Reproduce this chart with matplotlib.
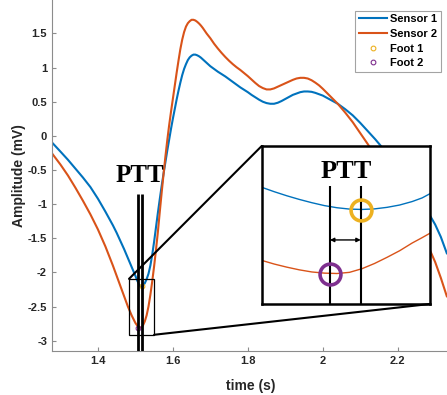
import numpy as np
import matplotlib
matplotlib.use("Agg")
import matplotlib.pyplot as plt
from matplotlib.patches import Rectangle, ConnectionPatch

plt.rcParams['font.family'] = ['Liberation Sans', 'DejaVu Sans']
plt.rcParams['font.weight'] = 'bold'

# ---- data ----
t = [1.278, 1.30, 1.32, 1.34, 1.36, 1.38, 1.40, 1.42, 1.44, 1.45, 1.46, 1.47, 1.48,
     1.49, 1.50, 1.505, 1.51, 1.515, 1.52, 1.525, 1.53, 1.535, 1.54, 1.545, 1.55,
     1.555, 1.56, 1.565, 1.57, 1.575, 1.58, 1.585, 1.59, 1.595, 1.60, 1.605, 1.61,
     1.615, 1.62, 1.625, 1.63, 1.635, 1.64, 1.645, 1.65, 1.655, 1.66, 1.665, 1.67,
     1.675, 1.68, 1.69, 1.70, 1.71, 1.72, 1.73, 1.74, 1.75, 1.76, 1.77, 1.78, 1.79,
     1.80, 1.81, 1.82, 1.83, 1.84, 1.85, 1.86, 1.87, 1.88, 1.89, 1.90, 1.91, 1.92,
     1.93, 1.94, 1.95, 1.96, 1.97, 1.98, 1.99, 2.00, 2.02, 2.04, 2.06, 2.08, 2.10,
     2.12, 2.14, 2.16, 2.18, 2.20, 2.22, 2.24, 2.26, 2.28, 2.30, 2.315, 2.331]
sensor1 = [-0.10, -0.23, -0.35, -0.48, -0.61, -0.75, -0.92, -1.11, -1.31, -1.42, -1.54,
           -1.66, -1.79, -1.92, -2.05, -2.12, -2.18, -2.21, -2.20, -2.16, -2.10, -2.02,
           -1.90, -1.74, -1.55, -1.34, -1.13, -0.93, -0.74, -0.56, -0.39, -0.22, -0.06,
           0.10, 0.25, 0.39, 0.53, 0.66, 0.78, 0.89, 0.98, 1.05, 1.11, 1.15, 1.175,
           1.19, 1.19, 1.18, 1.165, 1.145, 1.12, 1.07, 1.02, 0.98, 0.94, 0.905, 0.87,
           0.83, 0.79, 0.75, 0.71, 0.675, 0.64, 0.60, 0.565, 0.53, 0.50, 0.48, 0.47,
           0.47, 0.485, 0.51, 0.54, 0.57, 0.60, 0.62, 0.64, 0.65, 0.65, 0.645, 0.63,
           0.61, 0.59, 0.53, 0.47, 0.39, 0.30, 0.19, 0.07, -0.05, -0.18, -0.32, -0.47,
           -0.63, -0.79, -0.95, -1.11, -1.30, -1.48, -1.72]
sensor2 = [-0.26, -0.42, -0.58, -0.76, -0.95, -1.15, -1.37, -1.62, -1.90, -2.05, -2.20,
           -2.35, -2.50, -2.63, -2.74, -2.78, -2.81, -2.81, -2.78, -2.72, -2.63, -2.50,
           -2.33, -2.13, -1.91, -1.67, -1.41, -1.12, -0.84, -0.57, -0.31, -0.07, 0.15,
           0.35, 0.54, 0.73, 0.92, 1.10, 1.27, 1.41, 1.52, 1.60, 1.65, 1.68, 1.70,
           1.70, 1.69, 1.67, 1.645, 1.615, 1.58, 1.50, 1.43, 1.35, 1.28, 1.215, 1.155,
           1.10, 1.05, 1.005, 0.965, 0.92, 0.875, 0.825, 0.775, 0.73, 0.70, 0.68, 0.68,
           0.695, 0.72, 0.745, 0.77, 0.795, 0.82, 0.84, 0.85, 0.85, 0.84, 0.815, 0.78,
           0.74, 0.69, 0.58, 0.47, 0.34, 0.20, 0.04, -0.12, -0.29, -0.46, -0.64, -0.83,
           -1.02, -1.21, -1.40, -1.60, -1.85, -2.08, -2.35]

# foot points (time, amplitude)
foot1 = (1.518, -2.20)
foot2 = (1.506, -2.81)

# zoomed window
zoom_t = [1.483, 1.488, 1.493, 1.498, 1.503, 1.508, 1.513, 1.518, 1.523, 1.528,
          1.533, 1.538, 1.543, 1.547, 1.550]
zoom_s1 = [-2.309, -2.332, -2.353, -2.372, -2.389, -2.404, -2.415, -2.422, -2.424,
           -2.421, -2.413, -2.401, -2.383, -2.364, -2.343]
zoom_s2 = [-2.688, -2.707, -2.723, -2.737, -2.748, -2.754, -2.756, -2.750, -2.731,
           -2.704, -2.672, -2.638, -2.598, -2.570, -2.548]
zoom_foot1 = (1.5225, -2.428)
zoom_foot2 = (1.5102, -2.756)
zoom_ptt_x = [1.5102, 1.5225]

blue = '#0072BD'
orange = '#D95319'
yellow = '#EDB120'
purple = '#7E2F8E'

fig = plt.figure(figsize=(4.47, 3.95), dpi=100)
ax = fig.add_axes([0.1163, 0.1122, 0.8837, 0.8878])

ax.plot(t, sensor1, color=blue, lw=1.5, label='Sensor 1')
ax.plot(t, sensor2, color=orange, lw=1.5, label='Sensor 2')
ax.plot(*foot1, 'o', mfc='none', mec=yellow, ms=3.4, mew=0.8, label='Foot 1')
ax.plot(*foot2, 'o', mfc='none', mec=purple, ms=3.4, mew=0.8, label='Foot 2')

ax.set_xlim(1.2775, 2.3315)
ax.set_ylim(-3.147, 1.99)

# PTT markers on the main plot
ax.vlines([foot2[0], foot1[0]], -3.147, -0.855, color='black', lw=2.0, zorder=5)
ax.text(1.5128, -0.575, 'PTT', family=['Liberation Serif'], weight='bold',
        fontsize=18, ha='center', va='center')

# zoom rectangle
x0, x1 = zoom_t[0], zoom_t[-1]
y0, y1 = -2.914, -2.095
ax.add_patch(Rectangle((x0, y0), x1 - x0, y1 - y0, fill=False, ec='black', lw=0.9, zorder=6))

for s in ['top', 'right']:
    ax.spines[s].set_visible(False)
for s in ['left', 'bottom']:
    ax.spines[s].set_color('#8c8c8c')
    ax.spines[s].set_linewidth(0.8)
ax.tick_params(direction='in', length=3, width=0.8, color='#8c8c8c',
               labelcolor='#262626', labelsize=8, pad=3.5)
ax.set_xticks([1.4, 1.6, 1.8, 2.0, 2.2])
ax.set_xticklabels(['1.4', '1.6', '1.8', '2', '2.2'])
ax.set_yticks(np.arange(-3, 1.51, 0.5))
ax.set_yticklabels(['-3', '-2.5', '-2', '-1.5', '-1', '-0.5', '0', '0.5', '1', '1.5'])
for lab in ax.get_xticklabels() + ax.get_yticklabels():
    lab.set_fontweight('bold')

ax.set_xlabel('time (s)', fontsize=10, fontweight='bold', color='#262626')
ax.set_ylabel('Amplitude (mV)', fontsize=10, fontweight='bold', color='#262626')
ax.xaxis.set_label_coords(0.503, -0.08)
ax.yaxis.set_label_coords(-0.066, 0.498)

leg = ax.legend(loc='upper right', bbox_to_anchor=(0.986, 0.973),
                bbox_transform=fig.transFigure, fontsize=8, frameon=True,
                fancybox=False, edgecolor='#8c8c8c', handlelength=2.5,
                handletextpad=0.3, labelspacing=0.42, borderpad=0.32,
                borderaxespad=0)
leg.get_frame().set_linewidth(0.8)
for txt in leg.get_texts():
    txt.set_fontweight('bold')

# inset
axins = fig.add_axes([0.5855, 0.2304, 0.3758, 0.4])
axins.plot(zoom_t, zoom_s1, color=blue, lw=1.0)
axins.plot(zoom_t, zoom_s2, color=orange, lw=1.0)
axins.vlines(zoom_ptt_x, y0, -2.30, color='black', lw=1.5)
axins.annotate('', xy=(zoom_ptt_x[0], -2.582), xytext=(zoom_ptt_x[1], -2.582),
               arrowprops=dict(arrowstyle='<|-|>', color='black', lw=1.0,
                               mutation_scale=6, shrinkA=0, shrinkB=0))
axins.plot(*zoom_foot1, 'o', mfc='none', mec=yellow, ms=15, mew=2.6)
axins.plot(*zoom_foot2, 'o', mfc='none', mec=purple, ms=15, mew=2.6)
axins.text(1.5168, -2.227, 'PTT', family=['Liberation Serif'], weight='bold',
           fontsize=19, ha='center', va='center')
axins.set_xlim(x0, x1)
axins.set_ylim(y0, y1)
axins.set_xticks([])
axins.set_yticks([])
for s in axins.spines.values():
    s.set_linewidth(1.8)
    s.set_color('black')

con1 = ConnectionPatch(xyA=(x0, y1), coordsA=ax.transData, xyB=(0, 1),
                       coordsB=axins.transAxes, color='black', lw=1.5)
con2 = ConnectionPatch(xyA=(x1, y0), coordsA=ax.transData, xyB=(1, 0),
                       coordsB=axins.transAxes, color='black', lw=1.5)
fig.add_artist(con1)
fig.add_artist(con2)

fig.savefig('out.png', dpi=100)
